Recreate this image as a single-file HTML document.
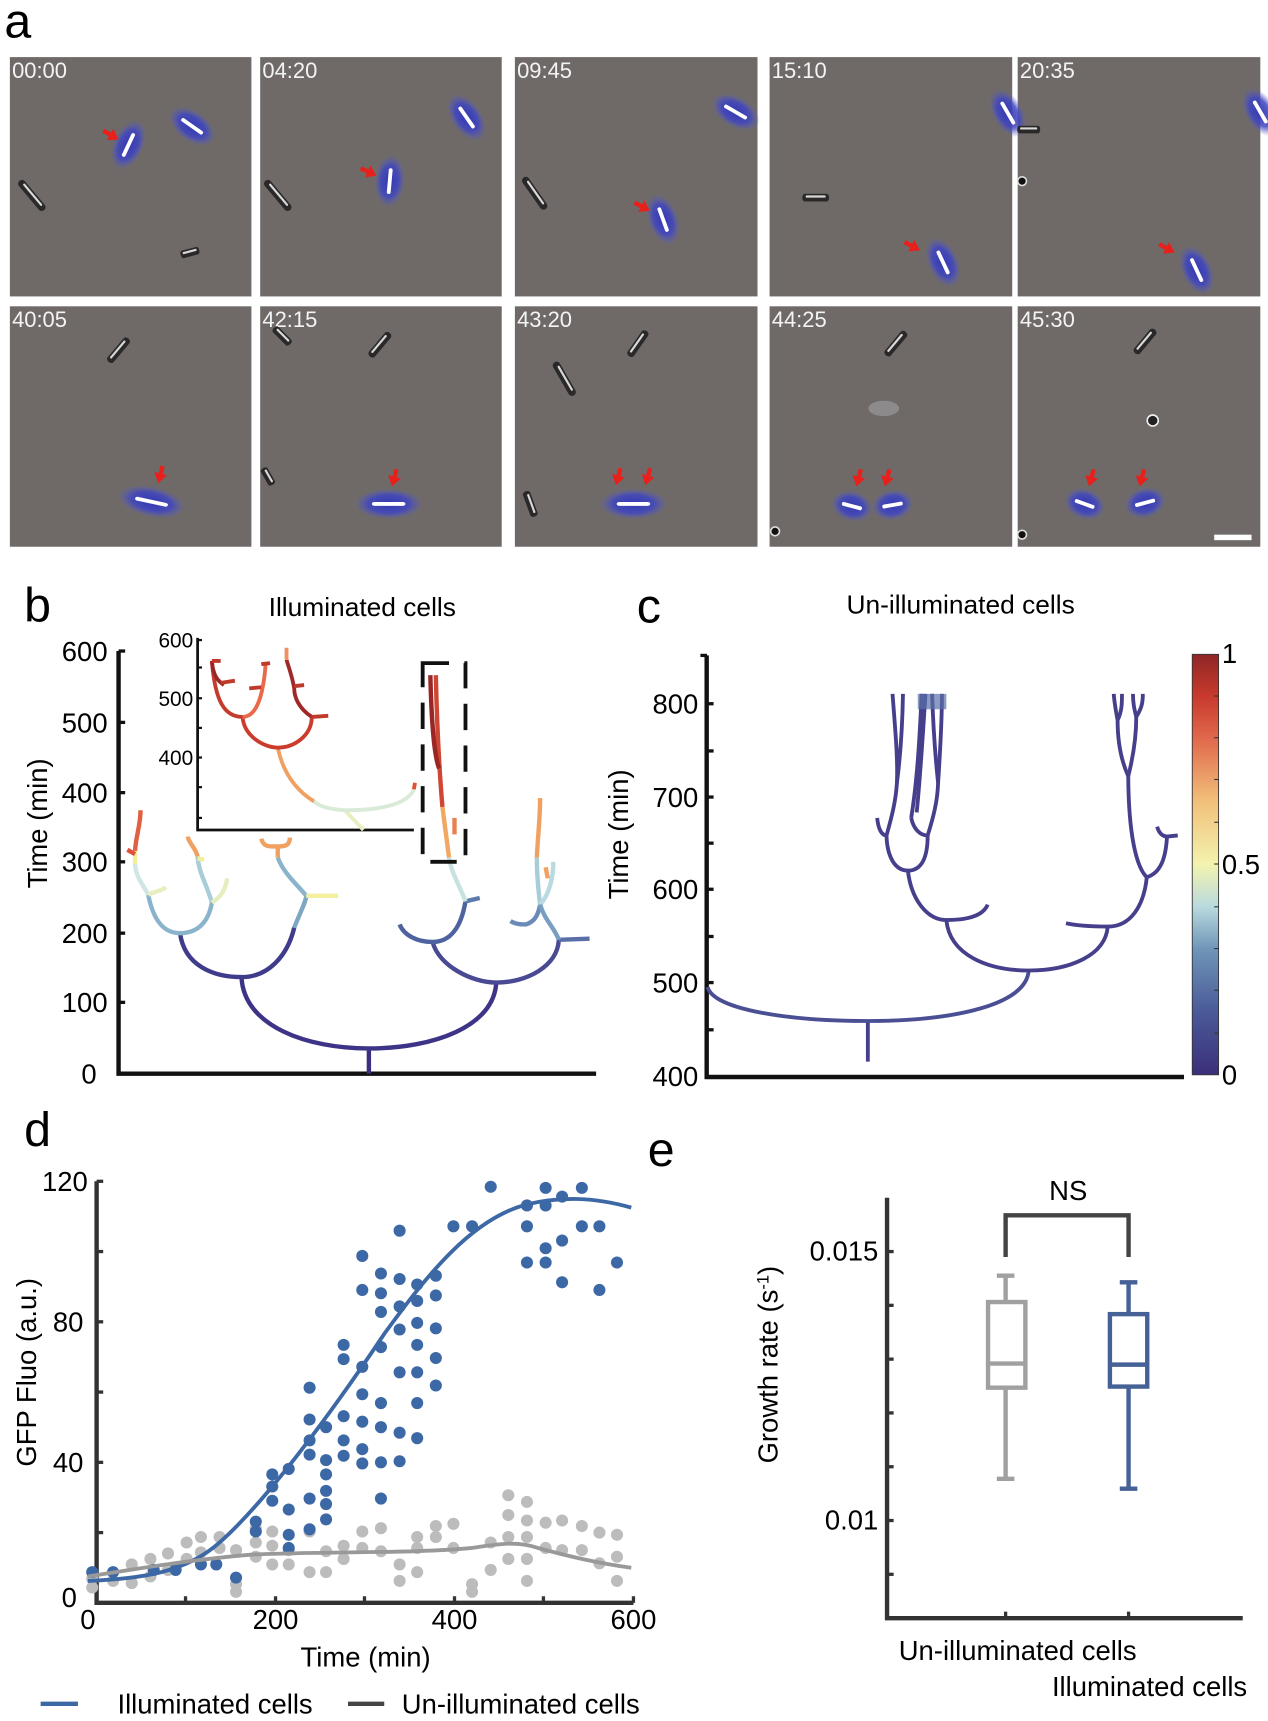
<!DOCTYPE html>
<html><head><meta charset="utf-8"><style>
html,body{margin:0;padding:0;background:#fff;}
svg{display:block;}
text{font-family:"Liberation Sans",Arial,sans-serif;}
</style></head><body>
<svg width="1268" height="1721" viewBox="0 0 1155 1567.6" xmlns="http://www.w3.org/2000/svg">
<defs>
<radialGradient id="glow"><stop offset="0" stop-color="#3034b8" stop-opacity="0.95"/><stop offset="0.6" stop-color="#4046c0" stop-opacity="0.85"/><stop offset="1" stop-color="#5a5ec8" stop-opacity="0"/></radialGradient>
<linearGradient id="cb" x1="0" y1="1" x2="0" y2="0">
<stop offset="0" stop-color="#3b2f7a"/><stop offset="0.15" stop-color="#4a5a98"/><stop offset="0.3" stop-color="#6f96b8"/><stop offset="0.4" stop-color="#b9dade"/><stop offset="0.5" stop-color="#f3f3ae"/><stop offset="0.65" stop-color="#f2c07a"/><stop offset="0.8" stop-color="#e0684c"/><stop offset="0.9" stop-color="#c83a2c"/><stop offset="1" stop-color="#8f2626"/></linearGradient>
<g id="bc"><ellipse rx="24" ry="14" fill="url(#glow)"/><line x1="-10" y1="0" x2="10" y2="0" stroke="#fff" stroke-width="3.5" stroke-linecap="round"/></g>
<g id="dc"><line x1="-14" y1="0" x2="14" y2="0" stroke="#2a2828" stroke-width="7" stroke-linecap="round"/><line x1="-12" y1="-1" x2="12" y2="-1" stroke="#d8d8d8" stroke-width="2" stroke-linecap="round"/></g>
<g id="arr"><line x1="-16" y1="0" x2="-3" y2="0" stroke="#e8201c" stroke-width="4"/><polygon points="0,0 -9,-6 -9,6" fill="#e8201c"/></g>
</defs>

<!-- Panel a -->
<text x="4" y="34" font-size="44">a</text>
<g fill="#6f6a68">
<rect x="9" y="52" width="220" height="218"/><rect x="237" y="52" width="220" height="218"/><rect x="469" y="52" width="221" height="218"/><rect x="701" y="52" width="221" height="218"/><rect x="927" y="52" width="221" height="218"/>
<rect x="9" y="279" width="220" height="219"/><rect x="237" y="279" width="220" height="219"/><rect x="469" y="279" width="221" height="219"/><rect x="701" y="279" width="221" height="219"/><rect x="927" y="279" width="221" height="219"/>
</g>
<g fill="#f4f4f4" font-size="20">
<text x="11" y="71">00:00</text><text x="239" y="71">04:20</text><text x="471" y="71">09:45</text><text x="703" y="71">15:10</text><text x="929" y="71">20:35</text>
<text x="11" y="298">40:05</text><text x="239" y="298">42:15</text><text x="471" y="298">43:20</text><text x="703" y="298">44:25</text><text x="929" y="298">45:30</text>
</g>
<use href="#bc" transform="translate(117,132) rotate(-65)"/>
<use href="#bc" transform="translate(175,115) rotate(35)"/>
<use href="#dc" transform="translate(29,178) rotate(50)"/>
<use href="#dc" transform="translate(173,230) rotate(-15) scale(0.5,1)"/>
<use href="#arr" transform="translate(108,127) rotate(30)"/>
<use href="#bc" transform="translate(425,107) rotate(55)"/>
<use href="#bc" transform="translate(355,165) rotate(-85)"/>
<use href="#dc" transform="translate(253,178) rotate(50)"/>
<use href="#arr" transform="translate(343,160) rotate(25)"/>
<use href="#bc" transform="translate(670,102) rotate(30)"/>
<use href="#bc" transform="translate(604,200) rotate(70)"/>
<use href="#dc" transform="translate(487,176) rotate(55)"/>
<use href="#arr" transform="translate(592,192) rotate(28)"/>
<use href="#bc" transform="translate(918,103) rotate(60)"/>
<use href="#dc" transform="translate(743,180) scale(0.7,1)"/>
<use href="#bc" transform="translate(859,239) rotate(65)"/>
<use href="#arr" transform="translate(838,228) rotate(28)"/>
<use href="#bc" transform="translate(1148,102) rotate(60)"/>
<use href="#dc" transform="translate(937,118) scale(0.6,1)"/>
<circle cx="931" cy="165" r="4" fill="#111" stroke="#ddd" stroke-width="1.5"/>
<use href="#bc" transform="translate(1090,246) rotate(65)"/>
<use href="#arr" transform="translate(1070,230) rotate(28)"/>
<use href="#dc" transform="translate(108,319) rotate(-50) scale(0.8,1)"/>
<use href="#bc" transform="translate(138,457) rotate(12) scale(1.3,1)"/>
<use href="#arr" transform="translate(144,440) rotate(105)"/>
<use href="#dc" transform="translate(257,306) rotate(45) scale(0.6,1)"/>
<use href="#dc" transform="translate(346,314) rotate(-50) scale(0.8,1)"/>
<use href="#dc" transform="translate(244,434) rotate(60) scale(0.5,1)"/>
<use href="#bc" transform="translate(354,459) scale(1.3,1)"/>
<use href="#arr" transform="translate(357,443) rotate(105)"/>
<use href="#dc" transform="translate(581,313) rotate(-55) scale(0.8,1)"/>
<use href="#dc" transform="translate(514,345) rotate(60)"/>
<use href="#dc" transform="translate(483,459) rotate(70) scale(0.7,1)"/>
<use href="#bc" transform="translate(577,459) scale(1.3,1)"/>
<use href="#arr" transform="translate(561,442) rotate(105)"/>
<use href="#arr" transform="translate(588,442) rotate(105)"/>
<use href="#dc" transform="translate(816,313) rotate(-50) scale(0.8,1)"/>
<ellipse cx="805" cy="372" rx="14" ry="7" fill="#999" opacity="0.7"/>
<use href="#bc" transform="translate(776,461) rotate(15) scale(0.8,1)"/>
<use href="#bc" transform="translate(813,460) rotate(-10) scale(0.8,1)"/>
<use href="#arr" transform="translate(780,443) rotate(105)"/>
<use href="#arr" transform="translate(806,443) rotate(105)"/>
<circle cx="706" cy="484" r="4" fill="#111" stroke="#ddd" stroke-width="1.5"/>
<use href="#dc" transform="translate(1043,311) rotate(-50) scale(0.8,1)"/>
<circle cx="1050" cy="383" r="5" fill="#222" stroke="#eee" stroke-width="1.5"/>
<use href="#bc" transform="translate(988,459) rotate(20) scale(0.8,1)"/>
<use href="#bc" transform="translate(1043,458) rotate(-15) scale(0.8,1)"/>
<use href="#arr" transform="translate(992,443) rotate(105)"/>
<use href="#arr" transform="translate(1038,443) rotate(105)"/>
<circle cx="931" cy="487" r="4" fill="#111" stroke="#ddd" stroke-width="1.5"/>
<rect x="1106" y="487" width="34" height="5" fill="#fff"/>

<!-- Panel b -->
<text x="22" y="566" font-size="44">b</text>
<text x="330" y="561" font-size="24" text-anchor="middle">Illuminated cells</text>
<g stroke="#111" stroke-width="4" fill="none">
<path d="M108,593 V978 H543"/>
</g>
<g stroke="#111" stroke-width="3"><line x1="108" y1="593" x2="114" y2="593"/><line x1="108" y1="658" x2="114" y2="658"/><line x1="108" y1="722" x2="114" y2="722"/><line x1="108" y1="785" x2="114" y2="785"/><line x1="108" y1="850" x2="114" y2="850"/><line x1="108" y1="913" x2="114" y2="913"/></g>
<g font-size="25" text-anchor="end">
<text x="98" y="602">600</text><text x="98" y="667">500</text><text x="98" y="731">400</text><text x="98" y="794">300</text><text x="98" y="859">200</text><text x="98" y="922">100</text><text x="88" y="987">0</text>
</g>
<text transform="translate(43,750) rotate(-90)" font-size="25" text-anchor="middle">Time (min)</text>
<g fill="none" stroke-width="4" stroke-linecap="butt">
<path d="M336,978 V955" stroke="#3d2f80"/>
<path d="M220,890 C222,935 280,955 336,955 C395,955 450,935 452,895" stroke="#3d3488"/>
<path d="M164,850 C168,880 195,890 220,890 C245,890 262,870 268,845" stroke="#3f3c8c"/>
<path d="M268,845 C274,830 279,820 279,816" stroke="#7ea7c2"/>
<path d="M135,815 C140,840 150,850 164,850 C180,850 190,840 193,822" stroke="#8ab3cc"/>
<path d="M135,815 C130,805 124,800 123,787" stroke="#cfe6e4"/>
<path d="M123,787 L123,775" stroke="#f2ee9a"/>
<path d="M123,775 C124,760 128,752 128,738" stroke="#e0603f"/>
<path d="M116,774 L123,778" stroke="#e0503a"/>
<path d="M135,815 C140,812 147,812 151,808" stroke="#e8eec0"/>
<path d="M193,822 C188,805 181,795 180,780" stroke="#a8ccd8"/>
<path d="M180,780 C178,772 172,768 171,762" stroke="#f0a060"/>
<path d="M193,822 C200,818 205,812 207,800" stroke="#e6eec0"/>
<path d="M180,782 L186,783" stroke="#f2ee9a"/>
<path d="M279,816 C270,805 258,795 253,781" stroke="#8ab3cc"/>
<path d="M253,781 L253,770" stroke="#f0a060"/>
<path d="M238,764 C240,772 246,771 253,771 C260,771 264,770 264,763" stroke="#f0a060"/>
<path d="M279,816 L308,816" stroke="#f5f0a0"/>
<path d="M394,858 C400,880 430,895 452,895 C480,895 508,880 509,856" stroke="#4a4a94"/>
<path d="M364,842 C368,852 380,858 394,858 C410,858 420,845 424,821" stroke="#4e62a0"/>
<path d="M424,821 L437,818" stroke="#5c7aae"/>
<path d="M424,821 C418,805 411,795 409,781" stroke="#c8e2e0"/>
<path d="M409,781 C407,765 405,750 403,735" stroke="#f2a860"/>
<path d="M414,760 C414,755 414,750 414,745" stroke="#e88050"/>
<path d="M403,735 C400,700 398,660 397,615" stroke="#d04634"/>
<path d="M392,615 C393,660 396,690 400,700" stroke="#9a2626"/>
<path d="M509,856 L537,855" stroke="#5a6ea8"/>
<path d="M465,839 C470,842 475,842 479,842 C486,840 490,835 492,824" stroke="#6a8ab8"/>
<path d="M492,824 C490,808 489,795 489,781" stroke="#a8ccd8"/>
<path d="M489,781 C490,760 492,745 492,727" stroke="#f0a060"/>
<path d="M492,824 C500,815 504,800 504,785" stroke="#b8dae0"/>
<path d="M497,790 L499,800" stroke="#f0a060"/>
<path d="M509,856 C505,845 496,838 492,824" stroke="#7a9ec0"/>
</g>
<g stroke="#111" stroke-width="2.5" fill="none"><path d="M180,581 V756 H377"/></g>
<g stroke="#111" stroke-width="2"><line x1="180" y1="583" x2="184" y2="583"/><line x1="180" y1="608" x2="184" y2="608"/><line x1="180" y1="636" x2="184" y2="636"/><line x1="180" y1="663" x2="184" y2="663"/><line x1="180" y1="690" x2="184" y2="690"/><line x1="180" y1="717" x2="184" y2="717"/><line x1="180" y1="745" x2="184" y2="745"/></g>
<g font-size="19" text-anchor="end"><text x="176" y="590">600</text><text x="176" y="643">500</text><text x="176" y="697">400</text></g>
<g fill="none" stroke-width="3.5">
<path d="M331,756 L314,738" stroke="#e8eec0"/>
<path d="M314,738 C340,738 370,735 377,719" stroke="#d8ead8"/>
<path d="M314,738 C300,737 292,735 286,730" stroke="#d8ead8"/>
<path d="M286,730 C270,720 258,705 253,681" stroke="#f0a060"/>
<path d="M221,653 C222,670 240,681 253,681 C268,681 284,670 284,653" stroke="#cc3c2c"/>
<path d="M193,602 C196,640 205,653 221,653" stroke="#c43c2c"/>
<path d="M193,602 C194,615 198,620 204,624" stroke="#9a2626"/>
<path d="M221,653 C235,653 240,630 242,605" stroke="#e86a4a"/>
<path d="M284,653 C272,645 268,635 268,627 C266,615 262,605 261,601" stroke="#a02828"/>
<path d="M261,601 L261,590" stroke="#f09060"/>
<path d="M284,653 L299,652" stroke="#c03a2c"/>
<path d="M201,622 L214,620 M227,627 L238,626 M268,625 L277,624 M193,602 L201,602 M238,605 L246,604" stroke="#c03a2c"/>
<path d="M377,719 L378,713" stroke="#e05030"/>
</g>
<rect x="385" y="604" width="39" height="181" fill="none" stroke="#111" stroke-width="3.5" stroke-dasharray="24,14"/>

<!-- Panel c -->
<text x="580" y="567" font-size="44">c</text>
<text x="875" y="559" font-size="24" text-anchor="middle">Un-illuminated cells</text>
<g stroke="#111" stroke-width="4" fill="none"><path d="M643.7,597 V981 H1078.5"/></g>
<g stroke="#111" stroke-width="3">
<line x1="638" y1="597" x2="644" y2="597"/><line x1="644" y1="641" x2="650" y2="641"/><line x1="644" y1="684" x2="650" y2="684"/><line x1="644" y1="726" x2="650" y2="726"/><line x1="644" y1="768" x2="650" y2="768"/><line x1="644" y1="810" x2="650" y2="810"/><line x1="644" y1="853" x2="650" y2="853"/><line x1="644" y1="895" x2="650" y2="895"/><line x1="644" y1="938" x2="650" y2="938"/></g>
<g font-size="25" text-anchor="end">
<text x="636" y="650">800</text><text x="636" y="735">700</text><text x="636" y="819">600</text><text x="636" y="904">500</text><text x="636" y="989">400</text></g>
<text transform="translate(572,760) rotate(-90)" font-size="25" text-anchor="middle">Time (min)</text>
<g fill="none" stroke="#463f8c" stroke-width="3.5">
<path d="M790.5,967 V930"/>
<path d="M644.5,899 C650,920 720,930 790.5,930 C870,930 935,915 937,884" stroke="#4a4f94"/>
<path d="M862,838 C865,870 900,884 937,884 C975,884 1007,870 1009,844"/>
<path d="M899.7,824 C895,835 880,838 862,838 C845,838 830,820 827,793"/>
<path d="M807.5,761 C808,780 815,793 827,793 C840,793 845,780 845,761"/>
<path d="M799,745 C800,755 803,761 807.5,761 C812,745 816,730 817,713 C818,690 815,660 813,632"/>
<path d="M817,713 C820,690 822,660 822.5,632"/>
<path d="M830,745 C832,755 838,761 845,761 C850,745 854,730 854.5,713 C856,690 858,660 858,632"/>
<path d="M854.5,713 C852,690 850,660 849,632"/>
<path d="M830,745 C834,720 837,690 839.5,632"/>
<path d="M835,740 C838,710 840,680 843,632"/>
<path d="M971,841 C980,843 995,844 1009,844 C1030,844 1042,825 1044.6,799"/>
<path d="M1044.6,799 C1035,790 1028,760 1027.7,707"/>
<path d="M1044.6,799 C1058,795 1062,780 1063,762"/>
<path d="M1054,753 C1056,760 1060,762 1063,762 L1072.8,761"/>
<path d="M1027.7,707 C1020,690 1018,670 1018,656 C1016,645 1015,640 1014.5,632"/>
<path d="M1018,656 C1022,648 1022,640 1022,632"/>
<path d="M1027.7,707 C1032,690 1035,670 1035,653 C1040,645 1041,640 1041,632"/>
<path d="M1035,653 C1033,645 1032,640 1032,632"/>
</g>
<rect x="836" y="632" width="26" height="14" fill="#5a70a8" opacity="0.7"/>
<rect x="1086" y="596" width="24" height="383" fill="url(#cb)" stroke="#333" stroke-width="0.8"/>
<g stroke="#333" stroke-width="1"><line x1="1106" y1="634" x2="1110" y2="634"/><line x1="1106" y1="672" x2="1110" y2="672"/><line x1="1106" y1="710" x2="1110" y2="710"/><line x1="1106" y1="749" x2="1110" y2="749"/><line x1="1106" y1="787" x2="1110" y2="787"/><line x1="1106" y1="826" x2="1110" y2="826"/><line x1="1106" y1="864" x2="1110" y2="864"/><line x1="1106" y1="902" x2="1110" y2="902"/><line x1="1106" y1="941" x2="1110" y2="941"/></g>
<g font-size="25"><text x="1113" y="604">1</text><text x="1113" y="796">0.5</text><text x="1113" y="988">0</text></g>

<!-- Panel d -->
<text x="22" y="1044" font-size="44">d</text>
<g stroke="#333" stroke-width="4" fill="none"><path d="M88,1076 V1460 H577"/></g>
<g stroke="#333" stroke-width="3">
<line x1="88" y1="1076" x2="94" y2="1076"/><line x1="88" y1="1140" x2="94" y2="1140"/><line x1="88" y1="1204" x2="94" y2="1204"/><line x1="88" y1="1268" x2="94" y2="1268"/><line x1="88" y1="1332" x2="94" y2="1332"/><line x1="88" y1="1396" x2="94" y2="1396"/>
<line x1="169" y1="1460" x2="169" y2="1454"/><line x1="251" y1="1460" x2="251" y2="1454"/><line x1="332" y1="1460" x2="332" y2="1454"/><line x1="414" y1="1460" x2="414" y2="1454"/><line x1="495" y1="1460" x2="495" y2="1454"/><line x1="577" y1="1460" x2="577" y2="1454"/></g>
<g font-size="25" text-anchor="end"><text x="80" y="1085">120</text><text x="76" y="1213">80</text><text x="76" y="1341">40</text><text x="70" y="1464">0</text></g>
<g font-size="25" text-anchor="middle"><text x="80" y="1484">0</text><text x="251" y="1484">200</text><text x="414" y="1484">400</text><text x="577" y="1484">600</text></g>
<text x="333" y="1518" font-size="25" text-anchor="middle">Time (min)</text>
<text transform="translate(33,1250) rotate(-90)" font-size="25" text-anchor="middle">GFP Fluo (a.u.)</text>
<g fill="#bcbcbc">
<circle cx="84" cy="1438" r="5.5"/><circle cx="84" cy="1446" r="5.5"/><circle cx="103" cy="1440" r="5.5"/><circle cx="120" cy="1425" r="5.5"/><circle cx="120" cy="1442" r="5.5"/><circle cx="137" cy="1420" r="5.5"/><circle cx="137" cy="1436" r="5.5"/><circle cx="153" cy="1415" r="5.5"/><circle cx="153" cy="1430" r="5.5"/><circle cx="170" cy="1405" r="5.5"/><circle cx="170" cy="1420" r="5.5"/><circle cx="183" cy="1400" r="5.5"/><circle cx="183" cy="1414" r="5.5"/><circle cx="200" cy="1400" r="5.5"/><circle cx="200" cy="1410" r="5.5"/><circle cx="215" cy="1412" r="5.5"/><circle cx="215" cy="1443" r="5.5"/><circle cx="215" cy="1450" r="5.5"/><circle cx="233" cy="1392" r="5.5"/><circle cx="233" cy="1405" r="5.5"/><circle cx="233" cy="1418" r="5.5"/><circle cx="248" cy="1395" r="5.5"/><circle cx="248" cy="1408" r="5.5"/><circle cx="248" cy="1425" r="5.5"/><circle cx="263" cy="1412" r="5.5"/><circle cx="263" cy="1425" r="5.5"/><circle cx="282" cy="1395" r="5.5"/><circle cx="282" cy="1432" r="5.5"/><circle cx="297" cy="1413" r="5.5"/><circle cx="297" cy="1432" r="5.5"/><circle cx="313" cy="1408" r="5.5"/><circle cx="313" cy="1420" r="5.5"/><circle cx="330" cy="1395" r="5.5"/><circle cx="330" cy="1410" r="5.5"/><circle cx="347" cy="1392" r="5.5"/><circle cx="347" cy="1413" r="5.5"/><circle cx="364" cy="1425" r="5.5"/><circle cx="364" cy="1440" r="5.5"/><circle cx="380" cy="1400" r="5.5"/><circle cx="380" cy="1410" r="5.5"/><circle cx="380" cy="1432" r="5.5"/><circle cx="397" cy="1390" r="5.5"/><circle cx="397" cy="1400" r="5.5"/><circle cx="413" cy="1388" r="5.5"/><circle cx="413" cy="1410" r="5.5"/><circle cx="430" cy="1443" r="5.5"/><circle cx="430" cy="1450" r="5.5"/><circle cx="447" cy="1405" r="5.5"/><circle cx="447" cy="1430" r="5.5"/><circle cx="463" cy="1362" r="5.5"/><circle cx="463" cy="1380" r="5.5"/><circle cx="463" cy="1400" r="5.5"/><circle cx="463" cy="1420" r="5.5"/><circle cx="480" cy="1368" r="5.5"/><circle cx="480" cy="1385" r="5.5"/><circle cx="480" cy="1400" r="5.5"/><circle cx="480" cy="1420" r="5.5"/><circle cx="480" cy="1440" r="5.5"/><circle cx="497" cy="1387" r="5.5"/><circle cx="497" cy="1410" r="5.5"/><circle cx="512" cy="1385" r="5.5"/><circle cx="512" cy="1412" r="5.5"/><circle cx="530" cy="1390" r="5.5"/><circle cx="530" cy="1412" r="5.5"/><circle cx="546" cy="1396" r="5.5"/><circle cx="546" cy="1424" r="5.5"/><circle cx="562" cy="1398" r="5.5"/><circle cx="562" cy="1418" r="5.5"/><circle cx="562" cy="1440" r="5.5"/>
</g>
<g fill="#3d68a6">
<circle cx="84" cy="1432" r="5.5"/><circle cx="103" cy="1432" r="5.5"/><circle cx="140" cy="1430" r="5.5"/><circle cx="160" cy="1430" r="5.5"/><circle cx="183" cy="1425" r="5.5"/><circle cx="197" cy="1425" r="5.5"/><circle cx="215" cy="1437" r="5.5"/><circle cx="233" cy="1386" r="5.5"/><circle cx="233" cy="1395" r="5.5"/><circle cx="248" cy="1367" r="5.5"/><circle cx="248" cy="1343" r="5.5"/><circle cx="248" cy="1354" r="5.5"/><circle cx="263" cy="1338" r="5.5"/><circle cx="263" cy="1375" r="5.5"/><circle cx="263" cy="1398" r="5.5"/><circle cx="263" cy="1410" r="5.5"/><circle cx="282" cy="1264" r="5.5"/><circle cx="282" cy="1293" r="5.5"/><circle cx="282" cy="1312" r="5.5"/><circle cx="282" cy="1325" r="5.5"/><circle cx="282" cy="1365" r="5.5"/><circle cx="282" cy="1393" r="5.5"/><circle cx="297" cy="1300" r="5.5"/><circle cx="297" cy="1330" r="5.5"/><circle cx="297" cy="1343" r="5.5"/><circle cx="297" cy="1358" r="5.5"/><circle cx="297" cy="1370" r="5.5"/><circle cx="297" cy="1384" r="5.5"/><circle cx="313" cy="1225" r="5.5"/><circle cx="313" cy="1238" r="5.5"/><circle cx="313" cy="1290" r="5.5"/><circle cx="313" cy="1312" r="5.5"/><circle cx="313" cy="1326" r="5.5"/><circle cx="330" cy="1144" r="5.5"/><circle cx="330" cy="1175" r="5.5"/><circle cx="330" cy="1245" r="5.5"/><circle cx="330" cy="1270" r="5.5"/><circle cx="330" cy="1295" r="5.5"/><circle cx="330" cy="1320" r="5.5"/><circle cx="330" cy="1333" r="5.5"/><circle cx="347" cy="1160" r="5.5"/><circle cx="347" cy="1178" r="5.5"/><circle cx="347" cy="1195" r="5.5"/><circle cx="347" cy="1227" r="5.5"/><circle cx="347" cy="1278" r="5.5"/><circle cx="347" cy="1300" r="5.5"/><circle cx="347" cy="1365" r="5.5"/><circle cx="347" cy="1332" r="5.5"/><circle cx="364" cy="1121" r="5.5"/><circle cx="364" cy="1165" r="5.5"/><circle cx="364" cy="1190" r="5.5"/><circle cx="364" cy="1211" r="5.5"/><circle cx="364" cy="1250" r="5.5"/><circle cx="364" cy="1305" r="5.5"/><circle cx="364" cy="1331" r="5.5"/><circle cx="380" cy="1170" r="5.5"/><circle cx="380" cy="1185" r="5.5"/><circle cx="380" cy="1205" r="5.5"/><circle cx="380" cy="1225" r="5.5"/><circle cx="380" cy="1250" r="5.5"/><circle cx="380" cy="1278" r="5.5"/><circle cx="380" cy="1310" r="5.5"/><circle cx="397" cy="1162" r="5.5"/><circle cx="397" cy="1180" r="5.5"/><circle cx="397" cy="1210" r="5.5"/><circle cx="397" cy="1237" r="5.5"/><circle cx="397" cy="1262" r="5.5"/><circle cx="413" cy="1117" r="5.5"/><circle cx="430" cy="1117" r="5.5"/><circle cx="447" cy="1081" r="5.5"/><circle cx="480" cy="1098" r="5.5"/><circle cx="480" cy="1117" r="5.5"/><circle cx="480" cy="1150" r="5.5"/><circle cx="497" cy="1082" r="5.5"/><circle cx="497" cy="1098" r="5.5"/><circle cx="497" cy="1137" r="5.5"/><circle cx="497" cy="1150" r="5.5"/><circle cx="512" cy="1090" r="5.5"/><circle cx="512" cy="1130" r="5.5"/><circle cx="512" cy="1168" r="5.5"/><circle cx="530" cy="1082" r="5.5"/><circle cx="530" cy="1117" r="5.5"/><circle cx="546" cy="1175" r="5.5"/><circle cx="562" cy="1150" r="5.5"/><circle cx="546" cy="1117" r="5.5"/>
</g>
<path d="M80,1440 C130,1438 170,1432 200,1405 C240,1370 300,1290 350,1215 C390,1160 430,1110 480,1097 C510,1090 540,1090 575,1100" fill="none" stroke="#3d68a6" stroke-width="3.5"/>
<path d="M80,1436 C130,1428 180,1420 230,1416 C300,1413 380,1415 430,1410 C450,1407 470,1403 490,1410 C520,1418 545,1424 575,1428" fill="none" stroke="#999" stroke-width="3.5"/>
<line x1="37" y1="1552" x2="71" y2="1552" stroke="#3d68a6" stroke-width="4"/>
<text x="107" y="1561" font-size="25">Illuminated cells</text>
<line x1="317" y1="1552" x2="350" y2="1552" stroke="#444" stroke-width="4"/>
<text x="366" y="1561" font-size="25">Un-illuminated cells</text>

<!-- Panel e -->
<text x="590" y="1062" font-size="44">e</text>
<g stroke="#333" stroke-width="4" fill="none"><path d="M808,1091 V1474 H1132"/></g>
<g stroke="#333" stroke-width="3">
<line x1="808" y1="1140" x2="814" y2="1140"/><line x1="808" y1="1189" x2="814" y2="1189"/><line x1="808" y1="1238" x2="814" y2="1238"/><line x1="808" y1="1287" x2="814" y2="1287"/><line x1="808" y1="1336" x2="814" y2="1336"/><line x1="808" y1="1385" x2="814" y2="1385"/><line x1="808" y1="1434" x2="814" y2="1434"/>
<line x1="916" y1="1474" x2="916" y2="1468"/><line x1="1028" y1="1474" x2="1028" y2="1468"/></g>
<g font-size="25" text-anchor="end"><text x="800" y="1148">0.015</text><text x="800" y="1393">0.01</text></g>
<text x="927" y="1512" font-size="25" text-anchor="middle">Un-illuminated cells</text>
<text x="1136" y="1545" font-size="25" text-anchor="end">Illuminated cells</text>
<text transform="translate(708,1243) rotate(-90)" font-size="25" text-anchor="middle">Growth rate (s<tspan baseline-shift="super" font-size="15">-1</tspan>)</text>
<path d="M916,1145 V1107 H1028 V1145" fill="none" stroke="#444" stroke-width="4"/>
<text x="973" y="1093" font-size="25" text-anchor="middle">NS</text>
<g stroke="#a0a0a0" stroke-width="4" fill="none">
<line x1="916" y1="1162" x2="916" y2="1186"/><line x1="908" y1="1162" x2="924" y2="1162"/>
<rect x="900" y="1186" width="34" height="78" fill="#fff"/><line x1="900" y1="1242" x2="934" y2="1242"/>
<line x1="916" y1="1264" x2="916" y2="1347"/><line x1="908" y1="1347" x2="924" y2="1347"/></g>
<g stroke="#466196" stroke-width="4" fill="none">
<line x1="1028" y1="1168" x2="1028" y2="1197"/><line x1="1020" y1="1168" x2="1036" y2="1168"/>
<rect x="1011" y="1197" width="34" height="66" fill="#fff"/><line x1="1011" y1="1243" x2="1045" y2="1243"/>
<line x1="1028" y1="1263" x2="1028" y2="1356"/><line x1="1020" y1="1356" x2="1036" y2="1356"/></g>
</svg>
</body></html>
